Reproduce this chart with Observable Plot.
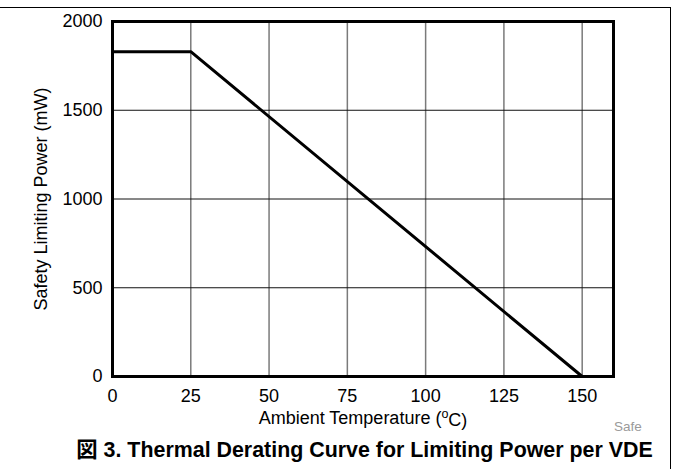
<!DOCTYPE html>
<html>
<head>
<meta charset="utf-8">
<script src="https://cdn.jsdelivr.net/npm/d3@7"></script>
<script src="https://cdn.jsdelivr.net/npm/@observablehq/plot@0.6"></script>
<style>
  html, body { margin: 0; padding: 0; background: #fff; }
  #wrap { position: relative; width: 673px; height: 469px; overflow: hidden; background: #fff;
          font-family: "Liberation Sans", Arial, Helvetica, "Noto Sans CJK JP", sans-serif; }
  #border { position: absolute; left: -2px; top: 7px; width: 673px; height: 480px;
            border-top: 1px solid #000; border-right: 1px solid #000; box-sizing: border-box; }
  #chart { position: absolute; left: 0; top: 0; }
  #safe { position: absolute; left: 614px; top: 419px; font-size: 13.5px; color: #9a9a9a; line-height: 16px; }
  #title { position: absolute; left: 0; width: 729px; top: 440px; text-align: center;
           font-size: 21.4px; font-weight: bold; line-height: 20px; color: #000; white-space: nowrap; }
</style>
</head>
<body>
<div id="wrap">
  <div id="border"></div>
  <div id="chart"></div>
  <div id="safe">Safe</div>
  <div id="title">図 3. Thermal Derating Curve for Limiting Power per VDE</div>
</div>
<script>
// Data
const temperature = [0, 25, 150];          // °C
const powerLimit  = [1830, 1830, 0];       // mW
const xTicks = [0, 25, 50, 75, 100, 125, 150];
const yTicks = [0, 500, 1000, 1500, 2000];
const xGrid = [25, 50, 75, 100, 125, 150];
const yGrid = [500, 1000, 1500];
const xLabel = "Ambient Temperature (oC)";
const yLabel = "Safety Limiting Power (mW)";

const curve = temperature.map((t, i) => ({t, p: powerLimit[i]}));

const chart = Plot.plot({
  width: 673,
  height: 469,
  marginLeft: 112,
  marginRight: 60,
  marginTop: 21,
  marginBottom: 93,
  style: {fontFamily: '"Liberation Sans", Arial, Helvetica, sans-serif', fontSize: "18px", color: "#000", background: "transparent"},
  x: {domain: [0, 160], ticks: xTicks, tickFormat: d => String(d), tickSize: 0, tickPadding: 13, label: xLabel, labelAnchor: "center", labelOffset: 47, labelArrow: "none"},
  y: {domain: [0, 2000], ticks: yTicks, tickFormat: d => String(d), tickSize: 0, tickPadding: 10, label: yLabel, labelAnchor: "center", labelOffset: 78, labelArrow: "none"},
  marks: [
    Plot.ruleX(xGrid, {stroke: "#7a7a7a", strokeWidth: 1.5}),
    Plot.ruleY(yGrid, {stroke: "#111", strokeWidth: 1}),
    Plot.line(curve, {x: "t", y: "p", stroke: "#000", strokeWidth: 3, strokeLinejoin: "miter"}),
    Plot.frame({stroke: "#000", strokeWidth: 3})
  ]
});
document.getElementById("chart").appendChild(chart);

// superscript "o" in the x label
d3.select(chart).selectAll("text").each(function() {
  if (this.textContent === xLabel) {
    const sel = d3.select(this);
    sel.text(null);
    sel.append("tspan").text("Ambient Temperature (");
    sel.append("tspan").attr("font-size", "12.5px").attr("dy", "-0.45em").text("o");
    sel.append("tspan").attr("dy", "0.45em").text("C)");
  }
});
</script>
</body>
</html>
